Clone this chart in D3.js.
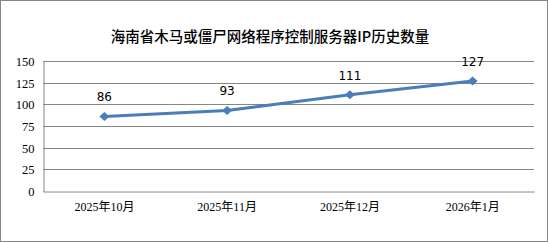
<!DOCTYPE html>
<html><head><meta charset="utf-8">
<script src="https://cdn.jsdelivr.net/npm/d3@7"></script>
<style>body{margin:0;background:#fff}</style>
</head><body>
<svg id="c" width="548" height="242"></svg>
<script>
const categories = ["2025年10月","2025年11月","2025年12月","2026年1月"];
const values = [86, 93, 111, 127];
const yTicks = [0, 25, 50, 75, 100, 125, 150];
const title = "海南省木马或僵尸网络程序控制服务器IP历史数量";

const W = 548, H = 242;
const m = {left: 43, right: 14, top: 61, bottom: 51};
const svg = d3.select("#c");
svg.append("rect").attr("x",0.5).attr("y",0.5).attr("width",W-1).attr("height",H-1)
  .attr("fill","#fff").attr("stroke","#868686");

const x = d3.scaleBand().domain(categories).range([m.left, W-m.right]);
const y = d3.scaleLinear().domain([0,150]).range([H-m.bottom, m.top]);

svg.append("text").attr("x", 270).attr("y", 42).attr("text-anchor","middle")
  .attr("font-family","'Noto Sans CJK SC', sans-serif").attr("font-size","14.5px").attr("font-weight","500")
  .attr("fill","#000").text(title);

// gridlines
svg.append("g").selectAll("line").data(yTicks.filter(d=>d>0)).join("line")
  .attr("x1", m.left).attr("x2", W-m.right)
  .attr("y1", d=>Math.round(y(d))+0.5).attr("y2", d=>Math.round(y(d))+0.5)
  .attr("stroke","#868686").attr("stroke-width",1);

// y axis
const ya = svg.append("g").attr("transform",`translate(${m.left+0.5},0.5)`)
  .call(d3.axisLeft(y).tickValues(yTicks).tickSize(0).tickPadding(9));
ya.select(".domain").attr("stroke","#868686");
ya.selectAll("text").attr("font-family","'Liberation Serif', serif").attr("font-size","12.5px").attr("fill","#000");

// x axis
const xa = svg.append("g").attr("transform",`translate(0,${Math.round(y(0))+0.5})`)
  .call(d3.axisBottom(x).tickSize(0).tickPadding(11));
xa.select(".domain").attr("stroke","#868686");
xa.selectAll("text").attr("font-family","'Liberation Serif', 'Noto Sans CJK SC', serif").attr("font-size","12px").attr("fill","#000");

const cx = d => x(d) + x.bandwidth()/2;
const line = d3.line().x((d,i)=>cx(categories[i])).y(d=>y(d));
svg.append("path").datum(values).attr("d", line).attr("fill","none")
  .attr("stroke","#4a7ebb").attr("stroke-width",3).attr("stroke-linejoin","round");

const diamond = "M-5,0L0,-4.5L5,0L0,4.5Z";
svg.append("g").selectAll("path").data(values).join("path")
  .attr("transform",(d,i)=>`translate(${cx(categories[i])},${y(d)})`)
  .attr("d", diamond).attr("fill","#4a7ebb");

svg.append("g").selectAll("text").data(values).join("text")
  .attr("x",(d,i)=>cx(categories[i])).attr("y",d=>y(d)-15)
  .attr("text-anchor","middle").attr("font-family","'DejaVu Sans', sans-serif").attr("font-size","12px")
  .attr("fill","#000").text(d=>d);
</script>
</body></html>
